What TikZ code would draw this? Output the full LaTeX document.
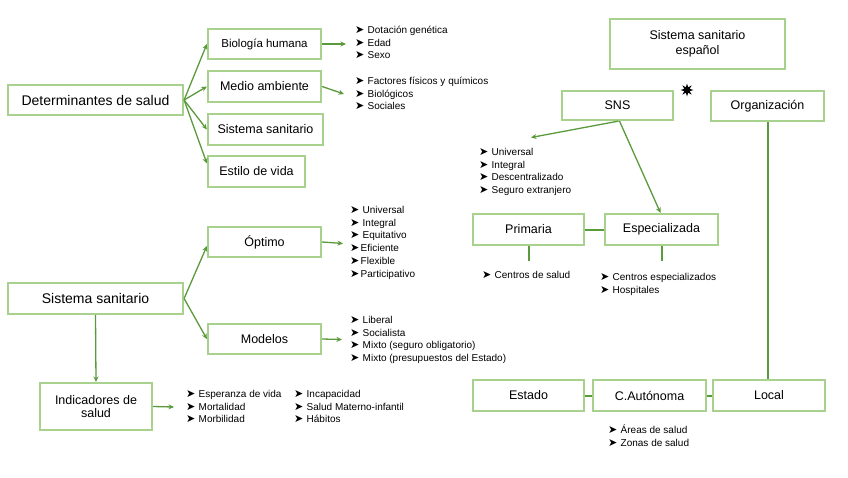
\documentclass[tikz,border=0pt]{standalone}
\usepackage{fontspec}
\setmainfont{Liberation Sans}
\newfontfamily\dvfont{DejaVu Sans}
\usetikzlibrary{arrows.meta,shapes.geometric}
\definecolor{boxg}{HTML}{A9D18E}
\definecolor{arrg}{HTML}{5A9A3C}
\newcommand\bl{\strut\makebox[12.5pt][l]{\dvfont\fontsize{11}{11}\selectfont ➤}}
\newcommand\bn{\strut\makebox[10.5pt][l]{\dvfont\fontsize{11}{11}\selectfont ➤}}
\tikzset{
  box/.style={draw=boxg, line width=2.2pt, fill=white, inner sep=1pt, align=center,
    font=\fontsize{12.5}{15}\selectfont},
  arr/.style={draw=arrg, line width=1.3pt, -{Stealth[length=5.5pt,width=5pt]}},
  conn/.style={draw=arrg, line width=2pt},
  lst/.style={anchor=north west, inner sep=0pt, align=left,
    font=\fontsize{10}{12.7}\selectfont},
}
\begin{document}
\begin{tikzpicture}[x=1pt,y=-1pt]
\useasboundingbox (0,0) rectangle (848,477);
% left column boxes
\node[box, minimum width=175, minimum height=30, font=\fontsize{14}{16}\selectfont] (det) at (95.5,100) {Determinantes de salud};
\node[box, minimum width=113, minimum height=30, font=\fontsize{11.5}{14}\selectfont] (bio) at (264.5,44) {Biología humana};
\node[box, minimum width=113, minimum height=31] (medio) at (264.5,86.5) {Medio ambiente};
\node[box, minimum width=115, minimum height=31] (sist) at (265.5,129.5) {Sistema sanitario};
\node[box, minimum width=97, minimum height=31] (estilo) at (256.5,171.5) {Estilo de vida};
\node[box, minimum width=175, minimum height=31, font=\fontsize{14}{16}\selectfont] (sisb) at (95.5,298.5) {Sistema sanitario};
\node[box, minimum width=113, minimum height=30] (opt) at (264.5,242) {Óptimo};
\node[box, minimum width=113, minimum height=30] (mod) at (264.5,339) {Modelos};
\node[box, minimum width=112, minimum height=47, font=\fontsize{12.5}{13.5}\selectfont] (ind) at (96,406.5) {Indicadores de\\salud};
% right boxes
\node[box, minimum width=175, minimum height=50] (esp) at (697.5,44) {Sistema sanitario\\español};
\node[box, minimum width=111, minimum height=29] (sns) at (617.5,105.5) {SNS};
\node[box, minimum width=113, minimum height=30] (org) at (767.5,106) {Organización};
\node[box, minimum width=111, minimum height=31] (prim) at (528.5,229.5) {Primaria};
\node[box, minimum width=113, minimum height=31] (espz) at (661.5,229.5) {Especializada};
\node[box, minimum width=111, minimum height=31] (estado) at (528.5,395.5) {Estado};
\node[box, minimum width=113, minimum height=31] (caut) at (649.5,395.5) {C.Autónoma};
\node[box, minimum width=112, minimum height=31] (local) at (769,395.5) {Local};
\node[star, star points=8, star point ratio=2.2, minimum size=13pt, inner sep=0pt, fill=black] (star) at (687,90) {};
% lists
\node[lst] (lbio) at (355,24.5) {\bl Dotación genética\\\bl Edad\\\bl Sexo};
\node[lst] (lmed) at (355,75.5) {\bl Factores físicos y químicos\\\bl Biológicos\\\bl Sociales};
\node[lst] (lopt) at (350,204.5) {\bl Universal\\\bl Integral\\\bl Equitativo\\\bn Eficiente\\\bn Flexible\\\bn Participativo};
\node[lst] (lmod) at (350,314.5) {\bl Liberal\\\bl Socialista\\\bl Mixto (seguro obligatorio)\\\bl Mixto (presupuestos del Estado)};
\node[lst] (lind1) at (186,388.5) {\bl Esperanza de vida\\\bl Mortalidad\\\bl Morbilidad};
\node[lst] (lind2) at (294,388.5) {\bl Incapacidad\\\bl Salud Materno-infantil\\\bl Hábitos};
\node[lst] (lsns) at (479,146.5) {\bl Universal\\\bl Integral\\\bl Descentralizado\\\bl Seguro extranjero};
\node[lst] (lprim) at (482,269.5) {\bl Centros de salud};
\node[lst] (lespz) at (600,271.5) {\bl Centros especializados\\\bl Hospitales};
\node[lst] (lcaut) at (608,424.5) {\bl Áreas de salud\\\bl Zonas de salud};
% coordinates for free ends
\coordinate (cbio) at (346,44);
\coordinate (cmed) at (344,94);
\coordinate (copt) at (343,243.5);
\coordinate (cmod) at (342,339.5);
\coordinate (cind) at (174,407);
\coordinate (csns) at (531,137.5);
\coordinate (cprim) at (528.5,261);
\coordinate (cespz) at (661.5,261);
% connectors
\draw[arr] (det.east) -- (bio.west);
\draw[arr] (det.east) -- (medio.west);
\draw[arr] (det.east) -- (sist.west);
\draw[arr] (det.east) -- ([yshift=8pt]estilo.west);
\draw[arr] (bio.east) -- (cbio);
\draw[arr] (medio.east) -- (cmed);
\draw[arr] (sisb.east) -- ([yshift=-4pt]opt.west);
\draw[arr] (sisb.east) -- (mod.west);
\draw[arr] (sisb.south) -- (ind.north);
\draw[arr] (opt.east) -- (copt);
\draw[arr] (mod.east) -- (cmod);
\draw[arr] (ind.east) -- (cind);
\draw[arr] ([xshift=1pt]sns.south) -- (csns);
\draw[arr] ([xshift=2pt]sns.south) -- ([xshift=-1pt]espz.north);
\draw[conn] (prim.east) -- (espz.west);
\draw[conn] (prim.south) -- (cprim);
\draw[conn] (espz.south) -- (cespz);
\draw[conn] (org.south) -- (org.south |- local.north);
\draw[conn] (estado.east) -- (caut.west);
\draw[conn] (caut.east) -- (local.west);
\end{tikzpicture}
\end{document}
